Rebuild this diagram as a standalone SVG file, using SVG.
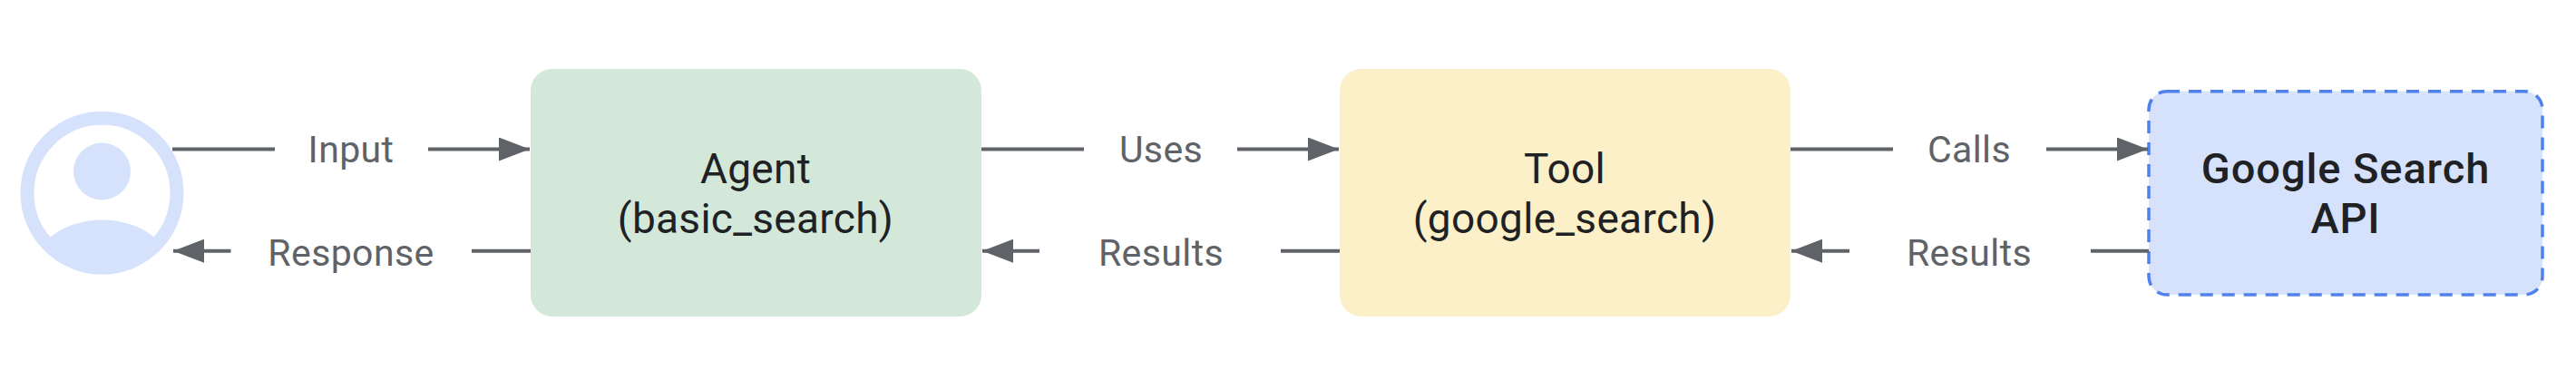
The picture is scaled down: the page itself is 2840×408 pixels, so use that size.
<svg xmlns="http://www.w3.org/2000/svg" width="2840" height="408" viewBox="0 0 2840 408">
<style>
.lbl{font-family:"Roboto","Liberation Sans",sans-serif;font-size:41px;letter-spacing:.4px;fill:#5f6368;text-anchor:middle}
.nt{font-family:"Roboto","Liberation Sans",sans-serif;font-size:46px;letter-spacing:.3px;fill:#202124;text-anchor:middle}
.ap{font-size:47px;letter-spacing:.9px;font-weight:500}
.ln{fill:none;stroke:#5f6368;stroke-width:4}
</style>
<defs>
<marker id="a" markerUnits="userSpaceOnUse" markerWidth="34" markerHeight="26" refX="34" refY="13" orient="auto"><path d="M0 0L34 13L0 26Z" fill="#5f6368"/></marker>
</defs>
<rect width="2840" height="408" fill="#fff"/>
<g id="user">
<circle cx="112.5" cy="212.7" r="82.5" fill="none" stroke="#d6e2fb" stroke-width="15"/>
<circle cx="112.5" cy="189" r="31.5" fill="#d6e2fb"/>
<path d="M55 262C85 236 140 236 170.5 262A76.5 76.5 0 0 1 55 262Z" fill="#d6e2fb"/>
</g>
<g id="agent"><rect x="585" y="76" width="497" height="273" rx="24" fill="#d3e8d9"/>
<text class="nt" x="833" y="201.7">Agent</text><text class="nt" x="833" y="256.7">(basic_search)</text></g>
<g id="tool"><rect x="1477" y="76" width="497" height="273" rx="24" fill="#fcf0c8"/>
<text class="nt" x="1725" y="201.7">Tool</text><text class="nt" x="1725" y="256.7">(google_search)</text></g>
<g id="api"><rect x="2369" y="100.7" width="434" height="224.3" rx="20" fill="#d6e2fb" stroke="#4f81ec" stroke-width="3.5" stroke-dasharray="14 10"/>
<text class="nt ap" x="2586" y="201.7">Google Search</text><text class="nt ap" x="2586" y="256.7">API</text></g>
<g id="connectors">
<path class="ln" d="M190 164.5H303M472 164.5H584" marker-end="url(#a)"/>
<path class="ln" d="M585 276.7H520M254.5 276.7H191" marker-end="url(#a)"/>
<path class="ln" d="M1082 164.5H1195M1364 164.5H1476" marker-end="url(#a)"/>
<path class="ln" d="M1477 276.7H1412M1146 276.7H1083" marker-end="url(#a)"/>
<path class="ln" d="M1974 164.5H2087M2256 164.5H2368" marker-end="url(#a)"/>
<path class="ln" d="M2369 276.7H2305M2039 276.7H1975" marker-end="url(#a)"/>
</g>
<g id="labels">
<text class="lbl" x="387" y="179.3">Input</text>
<text class="lbl" x="387" y="292.7">Response</text>
<text class="lbl" x="1280" y="179.3">Uses</text>
<text class="lbl" x="1280" y="292.7">Results</text>
<text class="lbl" x="2171" y="179.3">Calls</text>
<text class="lbl" x="2171" y="292.7">Results</text>
</g>
</svg>
